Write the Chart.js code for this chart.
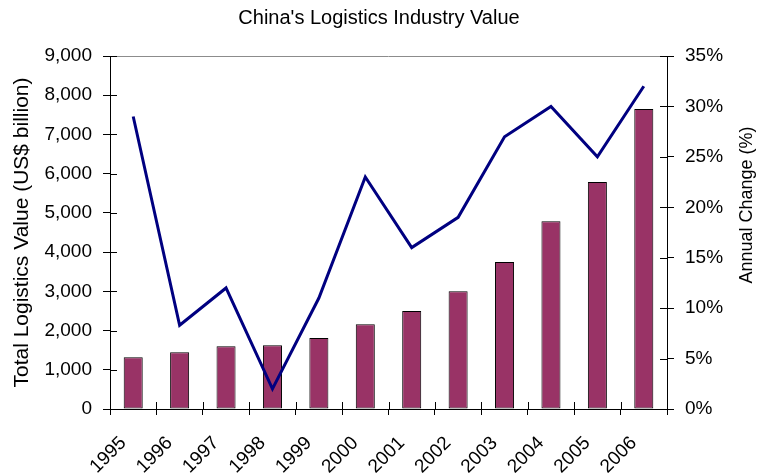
<!DOCTYPE html>
<html><head><meta charset="utf-8">
<script src="https://cdn.jsdelivr.net/npm/chart.js@4/dist/chart.umd.min.js"></script>
<style>html,body{margin:0;padding:0;background:#fff}#wrap{width:758px;height:474px}</style>
</head><body><div id="wrap"><canvas id="c" width="758" height="474"></canvas></div>
<script>
const years = ['1995','1996','1997','1998','1999','2000','2001','2002','2003','2004','2005','2006'];
const logisticsValue = [1320, 1450, 1600, 1625, 1810, 2160, 2500, 3000, 3750, 4790, 5790, 7650];
const annualChange = [29, 8.3, 12, 2, 11, 23, 16, 19, 27, 30, 25, 32];
const chartTitle = "China's Logistics Industry Value";
const leftAxisTitle = 'Total Logistics Value (US$ billion)';
const rightAxisTitle = 'Annual Change (%)';

const FONT = "'Liberation Sans', Arial, sans-serif";
Chart.defaults.font.family = FONT;
Chart.defaults.color = '#000';

const decor = {
  id: 'decor',
  afterDraw(chart) {
    const {ctx, chartArea: a, scales} = chart;
    ctx.save();
    ctx.lineWidth = 1;
    // plot area top border
    ctx.strokeStyle = '#8c8c8c';
    ctx.beginPath();
    ctx.moveTo(a.left, Math.round(a.top) + 0.5);
    ctx.lineTo(a.right, Math.round(a.top) + 0.5);
    ctx.stroke();
    // inward tick halves
    ctx.strokeStyle = '#000';
    ctx.beginPath();
    const ys = scales.y, y1 = scales.y1;
    ys.ticks.forEach((t, i) => {
      const p = Math.round(ys.getPixelForTick(i)) + 0.5;
      ctx.moveTo(a.left, p); ctx.lineTo(a.left + 7, p);
    });
    y1.ticks.forEach((t, i) => {
      const p = Math.round(y1.getPixelForTick(i)) + 0.5;
      ctx.moveTo(a.right - 7, p); ctx.lineTo(a.right, p);
    });
    const n = years.length;
    for (let i = 0; i <= n; i++) {
      const p = Math.round(a.left + i * (a.right - a.left) / n) + 0.5;
      ctx.moveTo(p, a.bottom); ctx.lineTo(p, a.bottom - 7);
    }
    ctx.stroke();
    // right axis title (reads bottom-to-top)
    ctx.fillStyle = '#000';
    ctx.font = '18px ' + FONT;
    ctx.textAlign = 'center';
    ctx.textBaseline = 'middle';
    ctx.translate(747, 205);
    ctx.rotate(-Math.PI / 2);
    ctx.fillText(rightAxisTitle, 0, 0);
    ctx.restore();
  }
};

new Chart(document.getElementById('c'), {
  type: 'bar',
  data: {
    labels: years,
    datasets: [
      {
        type: 'line',
        label: 'Annual Change (%)',
        data: annualChange,
        yAxisID: 'y1',
        borderColor: '#000080',
        borderWidth: 3,
        pointRadius: 0,
        tension: 0,
        fill: false,
        order: 0
      },
      {
        type: 'bar',
        label: 'Total Logistics Value',
        data: logisticsValue,
        yAxisID: 'y',
        backgroundColor: '#993366',
        borderColor: '#000',
        borderWidth: 1,
        borderSkipped: false,
        barPercentage: 0.41,
        categoryPercentage: 1,
        order: 1
      }
    ]
  },
  options: {
    responsive: false,
    devicePixelRatio: 1,
    animation: false,
    layout: { padding: 0 },
    plugins: {
      legend: { display: false },
      tooltip: { enabled: false },
      title: {
        display: true,
        text: chartTitle,
        color: '#000',
        font: { size: 20, weight: 'normal', family: FONT },
        padding: { top: 6.5, bottom: 25.5 }
      }
    },
    scales: {
      x: {
        grid: { drawOnChartArea: false, drawTicks: true, tickLength: 6, color: '#000', offset: true },
        border: { color: '#000', width: 1 },
        ticks: { font: { size: 19 }, color: '#000', maxRotation: 45, minRotation: 45, padding: 17, labelOffset: -10, autoSkip: false },
        afterFit: (s) => { s.height = 65; }
      },
      y: {
        position: 'left',
        min: 0, max: 9000,
        grid: { drawOnChartArea: false, drawTicks: true, tickLength: 7, color: '#000' },
        border: { color: '#000', width: 1 },
        ticks: { stepSize: 1000, font: { size: 19 }, color: '#000', padding: 11,
          callback: (v) => v.toLocaleString('en-US') },
        title: { display: true, text: leftAxisTitle, font: { size: 21 }, color: '#000', padding: { top: 10, bottom: 0 } },
        afterFit: (s) => { s.width = 110; }
      },
      y1: {
        position: 'right',
        min: 0, max: 35,
        grid: { drawOnChartArea: false, drawTicks: true, tickLength: 7, color: '#000' },
        border: { color: '#000', width: 1 },
        ticks: { stepSize: 5, font: { size: 19 }, color: '#000', padding: 11,
          callback: (v) => v + '%' },
        afterFit: (s) => { s.width = 91; }
      }
    }
  },
  plugins: [decor]
});
</script>
</body></html>
